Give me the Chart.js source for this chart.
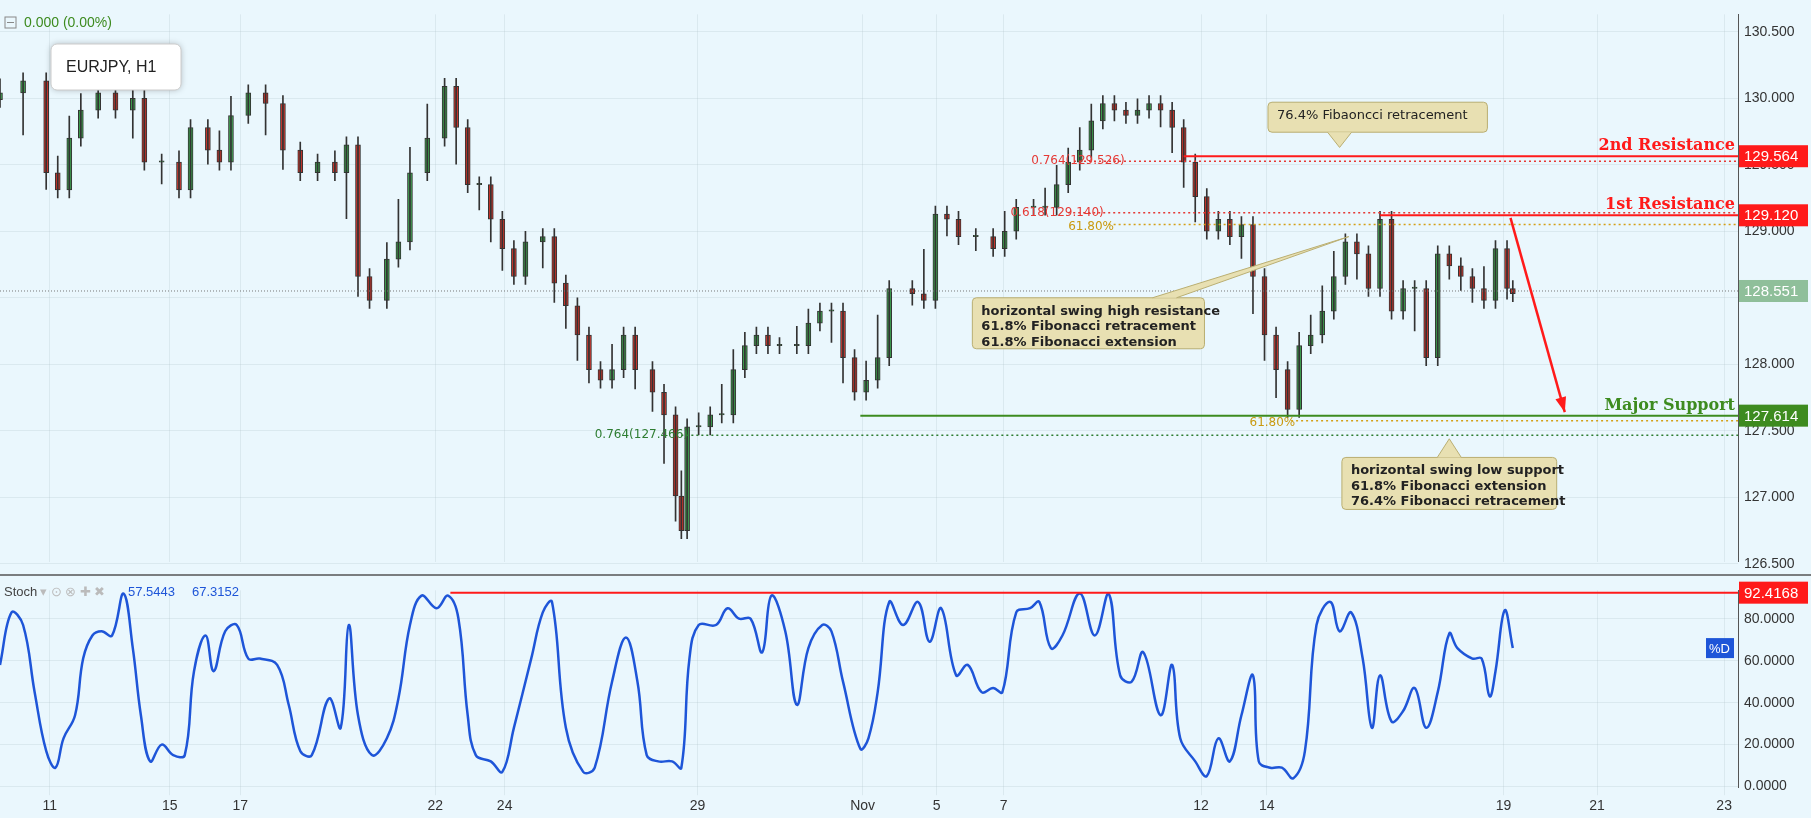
<!DOCTYPE html>
<html><head><meta charset="utf-8">
<script src="https://cdn.jsdelivr.net/npm/chart.js@4.4.0/dist/chart.umd.min.js"></script>
<style>
html,body{margin:0;padding:0;background:#eaf7fd;overflow:hidden}
#top{position:absolute;left:0;top:0;width:1811px;height:576px}
#bot{position:absolute;left:0;top:576px;width:1811px;height:242px}
</style></head><body>
<div id="top"><canvas id="priceChart"></canvas></div>
<div id="bot"><canvas id="stochChart"></canvas></div>
<script>
const S = 1.155;
const AXIS_W = 73;
// time axis in chart units (one unit ~ one pixel of the original)
const dayPos = [43, 147, 208, 377, 437, 604, 747, 811, 869, 1040, 1097, 1302, 1383, 1493];
const dayLabels = ['11', '15', '17', '22', '24', '29', 'Nov', '5', '7', '12', '14', '19', '21', '23'];

const closeX = [0,20,40,50,60,70,85,100,115,125,140,155,165,180,190,200,215,230,245,260,275,290,300,310,320,335,345,355,370,385,395,405,415,425,435,445,455,470,480,490,500,510,520,530,540,550,565,575,585,590,595,605,615,625,635,645,655,665,675,690,700,710,720,730,740,750,760,770,790,800,810,820,830,845,860,870,880,895,905,915,925,935,945,955,965,975,985,995,1005,1015,1025,1035,1045,1055,1065,1075,1085,1095,1105,1115,1125,1135,1145,1155,1165,1175,1185,1195,1205,1215,1225,1235,1245,1255,1265,1275,1285,1295,1305,1310];
const closeY = [130.04,130.13,129.44,129.31,129.70,129.91,130.04,129.91,130.00,129.52,129.52,129.31,129.78,129.61,129.52,129.87,130.04,129.96,129.61,129.44,129.52,129.44,129.65,128.66,128.48,128.79,128.92,129.44,129.70,130.09,129.78,129.35,129.35,129.09,128.87,128.66,128.92,128.96,128.61,128.44,128.22,127.96,127.88,127.96,128.22,127.96,127.79,127.62,127.01,126.75,127.53,127.53,127.62,127.62,127.96,128.14,128.22,128.14,128.14,128.14,128.31,128.40,128.40,128.05,127.79,127.88,128.05,128.57,128.53,128.48,129.13,129.09,128.96,128.96,128.87,129.00,129.18,129.18,129.18,129.35,129.52,129.61,129.83,129.96,129.91,129.87,129.91,129.96,129.91,129.78,129.52,129.26,129.00,129.09,128.96,129.05,128.66,128.22,127.96,127.66,128.14,128.22,128.40,128.66,128.92,128.83,128.57,129.09,128.40,128.57,128.57,128.05,128.83,128.74,128.66,128.57,128.48,128.87,128.57,128.53];

const stochX = [0,10,20,30,40,48,55,65,72,80,88,97,107,115,122,130,140,150,160,168,178,185,195,205,215,225,240,250,260,270,285,295,302,310,322,335,345,355,365,378,388,397,405,412,425,435,445,460,470,478,490,505,515,530,542,552,560,570,582,590,597,605,620,630,640,650,660,668,680,690,700,712,720,730,745,752,760,770,782,795,805,815,828,838,850,860,868,880,892,900,910,920,935,948,960,970,980,990,1005,1015,1022,1035,1045,1055,1065,1075,1085,1090,1100,1110,1120,1130,1140,1152,1160,1170,1180,1188,1195,1205,1215,1225,1235,1245,1255,1262,1275,1283,1290,1295,1303,1310];
const stochY = [58,83,77,45,17,9,23,34,61,72,74,72,92,66,34,12,20,15,15,55,72,55,74,77,61,61,58,39,17,15,42,28,77,34,15,23,42,77,91,85,91,80,34,15,12,7,28,61,83,88,28,7,9,50,71,50,15,12,12,9,61,77,77,85,80,80,64,91,74,39,66,77,74,50,18,23,45,88,77,88,69,85,53,58,45,47,45,83,85,88,66,72,92,72,92,53,50,64,34,58,23,12,5,23,12,34,53,12,9,9,4,17,77,88,74,83,61,28,53,31,36,47,28,45,73,66,61,61,43,55,84,66];

const priceTicks = [126.5, 127.0, 127.5, 128.0, 128.5, 129.0, 129.5, 130.0, 130.5];
const stochTicks = [0, 20, 40, 60, 80];

const lastPrice = 128.551;
const res2 = 129.564, res1 = 129.120, support = 127.614, stochLevel = 92.4168;

// candles: open = previous close, wick spans previous/current/next close
const candles = closeX.map((x, i) => {
  const o = i ? closeY[i - 1] : closeY[0] - 0.05;
  const c = closeY[i];
  const n = i < closeY.length - 1 ? closeY[i + 1] : c;
  return { x, o, c, hi: Math.max(o, c, (c + n) / 2) + 0.06, lo: Math.min(o, c, (c + n) / 2) - 0.06 };
});

const fmt3 = v => v.toFixed(3);
function fixWidth(scale) { scale.width = AXIS_W; }
function dayTicks(scale) { scale.ticks = dayPos.map(v => ({ value: v })); }

function tag(ctx, area, y, text, bg, fg) {
  const h = 22;
  ctx.fillStyle = bg;
  ctx.fillRect(area.right + 1, y - h / 2, AXIS_W - 4, h);
  ctx.fillStyle = fg || '#fff';
  ctx.font = `${Math.round(13 * S)}px "Liberation Sans", Arial`;
  ctx.textAlign = 'left'; ctx.textBaseline = 'middle';
  ctx.fillText(text, area.right + 6, y + 1);
}
function hline(ctx, x1, x2, y, color, dash, w) {
  ctx.save(); ctx.strokeStyle = color; ctx.lineWidth = w || 1.5;
  ctx.setLineDash(dash || []); ctx.beginPath(); ctx.moveTo(x1, y); ctx.lineTo(x2, y); ctx.stroke(); ctx.restore();
}
function callout(ctx, x, y, w, h, lines, px, py, bold) {
  ctx.save();
  ctx.fillStyle = '#e8e0b2'; ctx.strokeStyle = '#b9ae72'; ctx.lineWidth = 1;
  ctx.beginPath(); ctx.roundRect(x, y, w, h, 4); ctx.fill(); ctx.stroke();
  const cx = Math.max(x + 20, Math.min(x + w - 40, px));
  const edge = py < y ? y : y + h;
  ctx.beginPath(); ctx.moveTo(cx - 12, edge); ctx.lineTo(px, py); ctx.lineTo(cx + 12, edge); ctx.closePath(); ctx.fill();
  ctx.beginPath(); ctx.moveTo(cx - 12, edge); ctx.lineTo(px, py); ctx.lineTo(cx + 12, edge); ctx.stroke();
  ctx.fillStyle = '#222'; ctx.font = `${bold ? 'bold ' : ''}${Math.round(11.5 * S)}px "DejaVu Sans", Arial`;
  ctx.textAlign = 'left'; ctx.textBaseline = 'top';
  lines.forEach((t, i) => ctx.fillText(t, x + 9, y + 7 + i * 13.5 * S));
  ctx.restore();
}

const priceOverlay = {
  id: 'priceOverlay',
  afterDatasetsDraw(chart) {
    const { ctx, chartArea: a, scales: { x, y } } = chart;
    const X = v => x.getPixelForValue(v), Y = v => y.getPixelForValue(v);
    const fontB = `bold ${Math.round(14 * S)}px "DejaVu Serif", serif`;
    const fontS = `${Math.round(10.5 * S)}px "DejaVu Sans", Arial`;
    hline(ctx, a.left, a.right, Y(lastPrice), '#777', [1, 2], 1);
    hline(ctx, X(930), a.right, Y(129.526), '#e53935', [2, 3], 1.5);
    hline(ctx, X(925), a.right, Y(129.140), '#e53935', [2, 3], 1.5);
    hline(ctx, X(960), a.right, Y(129.05), '#d4a017', [2, 3], 1.5);
    hline(ctx, X(590), a.right, Y(127.466), '#2e7d32', [2, 3], 1.5);
    hline(ctx, X(1118), a.right, Y(127.575), '#d4a017', [2, 3], 1.5);
    ctx.font = fontS; ctx.textBaseline = 'middle'; ctx.textAlign = 'left';
    ctx.fillStyle = '#e53935';
    ctx.fillText('0.764(129.526)', X(893), Y(129.526));
    ctx.fillText('0.618(129.140)', X(875), Y(129.140));
    ctx.fillStyle = '#c99a10';
    ctx.fillText('61.80%', X(925), Y(129.05) + 2);
    ctx.fillText('61.80%', X(1082), Y(127.575) + 2);
    ctx.fillStyle = '#2e7d32';
    ctx.fillText('0.764(127.466)', X(515), Y(127.466));
    hline(ctx, X(1025), a.right, Y(res2), '#ff1a1a', [], 2);
    hline(ctx, X(1195), a.right, Y(res1), '#ff1a1a', [], 2);
    hline(ctx, X(745), a.right, Y(support), '#3d8b1f', [], 2);
    ctx.font = fontB; ctx.textAlign = 'right'; ctx.textBaseline = 'bottom';
    ctx.fillStyle = '#ff1a1a';
    ctx.fillText('2nd Resistance', a.right - 3, Y(res2) - 2);
    ctx.fillText('1st Resistance', a.right - 3, Y(res1) - 2);
    ctx.fillStyle = '#3d8b1f';
    ctx.fillText('Major Support', a.right - 3, Y(support) - 2);
    const ax1 = X(1308), ay1 = Y(129.10), ax2 = X(1355), ay2 = Y(127.64);
    ctx.save(); ctx.strokeStyle = '#ff1a1a'; ctx.fillStyle = '#ff1a1a'; ctx.lineWidth = 2.5;
    ctx.beginPath(); ctx.moveTo(ax1, ay1); ctx.lineTo(ax2, ay2); ctx.stroke();
    const ang = Math.atan2(ay2 - ay1, ax2 - ax1);
    ctx.beginPath(); ctx.moveTo(ax2, ay2);
    ctx.lineTo(ax2 - 16 * Math.cos(ang - 0.35), ay2 - 16 * Math.sin(ang - 0.35));
    ctx.lineTo(ax2 - 16 * Math.cos(ang + 0.35), ay2 - 16 * Math.sin(ang + 0.35));
    ctx.closePath(); ctx.fill(); ctx.restore();
    callout(ctx, X(1098), Y(129.97), X(1288) - X(1098), 30, ['76.4% Fibaoncci retracement'], X(1160), Y(129.63));
    callout(ctx, X(842), Y(128.50), X(1043) - X(842), 51, ['horizontal swing high resistance', '61.8% Fibonacci retracement', '61.8% Fibonacci extension'], X(1168), Y(128.96), true);
    callout(ctx, X(1162), Y(127.30), X(1348) - X(1162), 52, ['horizontal swing low support', '61.8% Fibonacci extension', '76.4% Fibonacci retracement'], X(1255), Y(127.44), true);
    tag(ctx, a, Y(res2), '129.564', '#ff1a1a');
    tag(ctx, a, Y(res1), '129.120', '#ff1a1a');
    tag(ctx, a, Y(lastPrice), '128.551', '#8fbf9a');
    tag(ctx, a, Y(support), '127.614', '#3d8b1f');
    ctx.save();
    ctx.font = `${Math.round(12 * S)}px "Liberation Sans", Arial`;
    ctx.textAlign = 'left'; ctx.textBaseline = 'middle';
    ctx.strokeStyle = '#888'; ctx.strokeRect(5, 17, 11, 11);
    ctx.beginPath(); ctx.moveTo(7, 22.5); ctx.lineTo(14, 22.5); ctx.stroke();
    ctx.fillStyle = '#3d8b1f'; ctx.fillText('0.000 (0.00%)', 24, 23);
    ctx.fillStyle = '#fff'; ctx.strokeStyle = '#ccc';
    ctx.shadowColor = 'rgba(0,0,0,0.25)'; ctx.shadowBlur = 6;
    ctx.beginPath(); ctx.roundRect(51, 44, 130, 46, 6); ctx.fill();
    ctx.shadowBlur = 0; ctx.stroke();
    ctx.fillStyle = '#222'; ctx.font = `${Math.round(14 * S)}px "Liberation Sans", Arial`;
    ctx.fillText('EURJPY, H1', 66, 68);
    ctx.restore();
    hline(ctx, 0, chart.width, chart.height - 1, '#555', [], 1.5);
  }
};

const stochOverlay = {
  id: 'stochOverlay',
  afterDatasetsDraw(chart) {
    const { ctx, chartArea: a, scales: { x, y } } = chart;
    hline(ctx, x.getPixelForValue(390), a.right, y.getPixelForValue(stochLevel), '#ff1a1a', [], 2);
    tag(ctx, a, y.getPixelForValue(stochLevel), '92.4168', '#ff1a1a');
    const last = stochY[stochY.length - 1];
    ctx.fillStyle = '#1e55d8';
    ctx.fillRect(a.right - 32, y.getPixelForValue(last) - 10, 28, 20);
    ctx.fillStyle = '#fff'; ctx.font = `${Math.round(11 * S)}px "Liberation Sans", Arial`;
    ctx.textAlign = 'left'; ctx.textBaseline = 'middle';
    ctx.fillText('%D', a.right - 29, y.getPixelForValue(last) + 1);
    ctx.fillStyle = '#444'; ctx.fillText('Stoch', 4, 16);
    ctx.fillStyle = '#bbb'; ctx.fillText('▾ ⊙ ⊗ ✚ ✖', 40, 16);
    ctx.fillStyle = '#1e55d8'; ctx.fillText('57.5443', 128, 16);
    ctx.fillText('67.3152', 192, 16);
  }
};

const xScale = (display) => ({
  type: 'linear', min: 0, max: 1505, offset: false,
  afterBuildTicks: dayTicks,
  grid: { color: 'rgba(150,170,180,0.18)', drawTicks: display, offset: false },
  border: { display: false },
  ticks: {
    display, color: '#333', font: { size: Math.round(12 * S), family: '"Liberation Sans", Arial' },
    callback: v => dayLabels[dayPos.indexOf(v)] ?? ''
  }
});

new Chart(document.getElementById('priceChart'), {
  type: 'bar',
  data: {
    datasets: [
      {
        label: 'wick', grouped: false, barThickness: 1,
        data: candles.map(k => ({ x: k.x, y: [k.lo, k.hi] })),
        backgroundColor: '#333'
      },
      {
        label: 'body', grouped: false, barThickness: 5,
        data: candles.map(k => ({ x: k.x, y: [k.o, k.c === k.o ? k.c + 0.01 : k.c] })),
        backgroundColor: candles.map(k => k.c >= k.o ? '#3c9a4c' : '#c8342b'),
        borderColor: '#333', borderWidth: 1, borderSkipped: false
      }
    ]
  },
  options: {
    responsive: true, maintainAspectRatio: false, animation: false,
    plugins: { legend: { display: false }, tooltip: { enabled: false } },
    scales: {
      x: xScale(false),
      y: {
        position: 'right', min: 126.517, max: 130.63,
        afterFit: fixWidth,
        afterBuildTicks: s => { s.ticks = priceTicks.map(v => ({ value: v })); },
        grid: { color: 'rgba(150,170,180,0.18)', drawTicks: false },
        border: { color: '#555' },
        ticks: { color: '#333', padding: 6, font: { size: Math.round(12 * S), family: '"Liberation Sans", Arial' }, callback: fmt3 }
      }
    }
  },
  plugins: [priceOverlay]
});

new Chart(document.getElementById('stochChart'), {
  type: 'line',
  data: {
    datasets: [{
      data: stochX.map((x, i) => ({ x, y: stochY[i] })),
      borderColor: '#1e55d8', borderWidth: 2.5, pointRadius: 0, tension: 0.4, fill: false, clip: false
    }]
  },
  options: {
    responsive: true, maintainAspectRatio: false, animation: false,
    plugins: { legend: { display: false }, tooltip: { enabled: false } },
    scales: {
      x: xScale(true),
      y: {
        position: 'right', min: -0.3, max: 93.5,
        afterFit: fixWidth,
        afterBuildTicks: s => { s.ticks = stochTicks.map(v => ({ value: v })); },
        grid: { color: 'rgba(150,170,180,0.18)', drawTicks: false },
        border: { color: '#555' },
        ticks: { color: '#333', padding: 6, font: { size: Math.round(12 * S), family: '"Liberation Sans", Arial' }, callback: v => v.toFixed(4) }
      }
    }
  },
  plugins: [stochOverlay]
});
</script>
</body></html>
